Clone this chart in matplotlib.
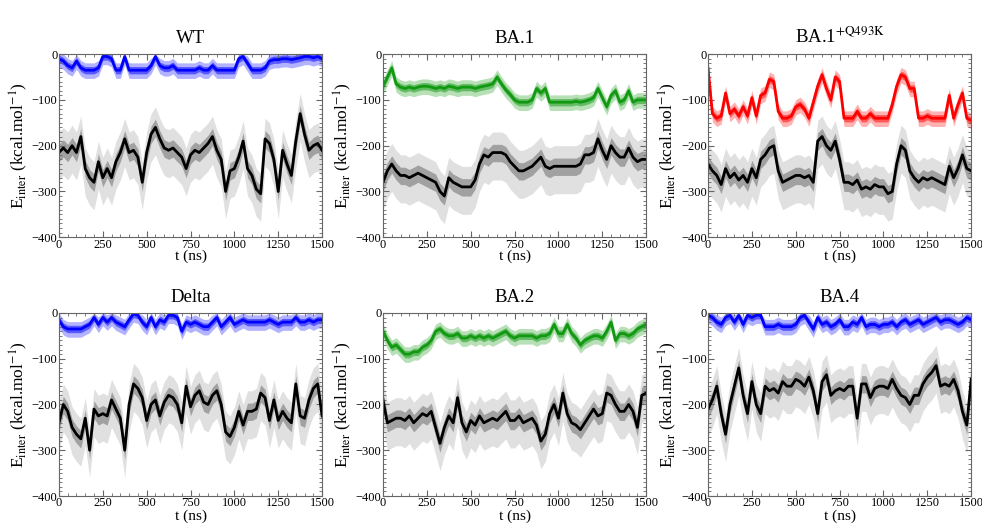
import numpy as np
import matplotlib
matplotlib.use("Agg")
import matplotlib.pyplot as plt
from matplotlib.ticker import MultipleLocator

plt.rcParams["font.family"] = ["Liberation Serif", "DejaVu Serif"]
plt.rcParams["mathtext.fontset"] = "stix"

# time grid (ns), one value every 25 ns
t = np.arange(0, 1501, 25)

# running averages (kcal/mol)
wt_black = [-215, -205, -215, -200, -215, -180, -250, -270, -280, -235, -270, -250, -270, -235, -215, -185,
            -215, -210, -225, -280, -215, -175, -160, -185, -205, -210, -205, -215, -225, -250, -220, -210,
            -215, -205, -195, -180, -210, -230, -300, -255, -250, -225, -190, -250, -265, -295, -305, -185,
            -195, -230, -300, -210, -240, -265, -190, -130, -175, -210, -200, -195, -210]
wt_blue = [-10, -15, -25, -30, -15, -30, -35, -35, -35, -30, -5, -5, -10, -35, -35, -5,
           -35, -35, -35, -35, -35, -25, -5, -25, -30, -30, -25, -35, -35, -35, -35, -35,
           -30, -35, -35, -25, -35, -35, -35, -35, -35, -10, -5, -20, -35, -35, -35, -30,
           -15, -12, -12, -10, -10, -12, -10, -8, -5, -5, -8, -5, -10]

ba1_black = [-280, -255, -240, -255, -265, -265, -270, -265, -260, -265, -270, -275, -280, -300, -310, -270,
             -280, -285, -290, -290, -290, -275, -240, -220, -225, -215, -215, -215, -220, -235, -245, -255,
             -255, -250, -245, -235, -225, -245, -250, -245, -245, -245, -245, -245, -245, -240, -220, -220,
             -215, -185, -210, -230, -200, -215, -225, -225, -205, -225, -235, -230, -230]
ba1_green = [-70, -50, -30, -65, -72, -75, -72, -75, -72, -70, -70, -72, -75, -72, -75, -70,
             -72, -75, -72, -72, -72, -75, -72, -70, -68, -65, -50, -65, -78, -88, -100, -105,
             -105, -105, -100, -75, -85, -75, -105, -105, -105, -105, -105, -105, -103, -105, -103, -100,
             -95, -75, -95, -115, -90, -80, -105, -100, -80, -105, -100, -100, -100]

q493k_black = [-240, -255, -265, -285, -250, -270, -260, -275, -265, -280, -250, -270, -230, -220, -205, -200,
               -255, -280, -275, -270, -265, -265, -270, -265, -280, -190, -180, -200, -210, -190, -230, -280,
               -280, -285, -275, -295, -290, -295, -285, -290, -290, -305, -300, -240, -200, -210, -255, -270,
               -280, -270, -275, -270, -275, -280, -285, -245, -270, -250, -220, -250, -255]
q493k_red = [-30, -130, -140, -135, -85, -130, -120, -135, -115, -135, -95, -135, -90, -85, -55, -60,
             -125, -140, -140, -135, -115, -110, -120, -140, -105, -70, -45, -75, -100, -50, -60, -140,
             -140, -140, -125, -140, -140, -130, -140, -140, -140, -140, -110, -70, -45, -50, -75, -75,
             -140, -140, -135, -140, -140, -140, -140, -90, -140, -110, -85, -140, -145]

delta_black = [-240, -200, -215, -250, -265, -275, -230, -300, -210, -225, -220, -225, -190, -210, -230, -300,
               -200, -155, -165, -185, -235, -200, -190, -225, -195, -180, -185, -200, -240, -160, -205, -180,
               -170, -195, -200, -180, -170, -200, -260, -270, -250, -215, -245, -215, -215, -210, -175, -185,
               -235, -190, -235, -215, -230, -240, -155, -225, -230, -190, -165, -155, -225]
delta_blue = [-15, -30, -35, -35, -35, -35, -30, -25, -10, -25, -10, -20, -10, -20, -25, -30,
              -15, -2, -5, -20, -30, -10, -30, -15, -20, -5, -5, -10, -40, -20, -25, -20,
              -25, -30, -30, -20, -10, -30, -20, -10, -25, -20, -15, -20, -20, -20, -20, -20,
              -15, -20, -25, -20, -20, -20, -10, -20, -20, -15, -20, -15, -15]

ba2_black = [-190, -240, -235, -230, -230, -235, -225, -240, -230, -220, -225, -215, -250, -285, -250, -225,
             -240, -185, -240, -260, -235, -245, -225, -240, -235, -230, -235, -225, -215, -235, -235, -225,
             -240, -235, -230, -245, -280, -265, -220, -200, -230, -175, -220, -240, -245, -255, -240, -225,
             -210, -225, -220, -175, -180, -200, -215, -215, -200, -215, -250, -180, -175]
ba2_green = [-40, -60, -75, -70, -80, -90, -90, -85, -85, -75, -70, -60, -40, -35, -45, -50,
             -50, -45, -55, -55, -50, -55, -50, -55, -50, -55, -50, -45, -40, -50, -55, -50,
             -50, -50, -50, -55, -50, -50, -45, -25, -45, -45, -25, -45, -55, -70, -60, -55,
             -50, -50, -55, -40, -20, -60, -45, -45, -50, -45, -35, -30, -25]

ba4_black = [-210, -190, -160, -220, -265, -200, -160, -120, -180, -220, -150, -200, -220, -160, -170, -165,
             -175, -150, -160, -160, -145, -150, -160, -140, -170, -220, -150, -135, -180, -170, -165, -170,
             -160, -160, -230, -155, -155, -185, -165, -160, -160, -165, -145, -165, -180, -185, -200, -180,
             -180, -155, -140, -130, -115, -160, -155, -160, -145, -170, -215, -245, -145]
ba4_blue = [-5, -10, -20, -25, -10, -5, -20, -5, -25, -5, -10, -5, -5, -30, -30, -30,
            -25, -30, -30, -30, -25, -10, -5, -20, -35, -10, -25, -20, -30, -25, -15, -30,
            -30, -20, -25, -10, -30, -25, -25, -30, -25, -25, -20, -30, -20, -15, -25, -20,
            -15, -25, -20, -15, -10, -20, -15, -15, -20, -25, -20, -10, -15]

# approximate width of the sample clouds around the averages
black_down, black_up = 60, 45
col_down, col_up = 18, 16

panels = [
    ("WT", wt_black, wt_blue, "#0000ff"),
    ("BA.1", ba1_black, ba1_green, "#119911"),
    (r"BA.1$^{\mathrm{+Q493K}}$", q493k_black, q493k_red, "#ff0000"),
    ("Delta", delta_black, delta_blue, "#0000ff"),
    ("BA.2", ba2_black, ba2_green, "#119911"),
    ("BA.4", ba4_black, ba4_blue, "#0000ff"),
]

fig = plt.figure(figsize=(9.82, 5.26), dpi=100)
lefts = [0.060, 0.390, 0.721]
bottoms = [0.549, 0.057]
w, h = 0.268, 0.348

for i, (name, black, col, c) in enumerate(panels):
    ax = fig.add_axes([lefts[i % 3], bottoms[i // 3], w, h])
    black = np.array(black)
    col = np.array(col)

    ax.fill_between(t, col - col_down, np.minimum(col + col_up, 0), color=c, alpha=0.3, lw=0)
    ax.fill_between(t, col - 8, np.minimum(col + 8, 0), color=c, alpha=0.5, lw=0)
    ax.plot(t, col, color=c, lw=2)

    ax.fill_between(t, black - black_down, black + black_up, color="black", alpha=0.12, lw=0)
    ax.fill_between(t, black - 20, black + 18, color="black", alpha=0.28, lw=0)
    ax.plot(t, black, color="black", lw=2)

    ax.set_xlim(0, 1500)
    ax.set_ylim(-400, 0)
    ax.xaxis.set_major_locator(MultipleLocator(250))
    ax.xaxis.set_minor_locator(MultipleLocator(50))
    ax.yaxis.set_major_locator(MultipleLocator(100))
    ax.yaxis.set_minor_locator(MultipleLocator(10))
    ax.tick_params(which="both", direction="in", top=True, right=True, color="0.4",
                   labelsize=9, pad=1)
    ax.tick_params(which="major", length=4)
    ax.tick_params(which="minor", length=2)
    for s in ax.spines.values():
        s.set_color("0.4")
    ax.set_title(name, fontsize=13.5, pad=8)
    ax.set_xlabel("t (ns)", fontsize=11, labelpad=-1 if i < 3 else 0)
    ax.set_ylabel(r"E$_{\mathrm{inter}}$ (kcal.mol$^{-1}$)", fontsize=12.5, labelpad=1)

fig.savefig("out.png", dpi=100)
